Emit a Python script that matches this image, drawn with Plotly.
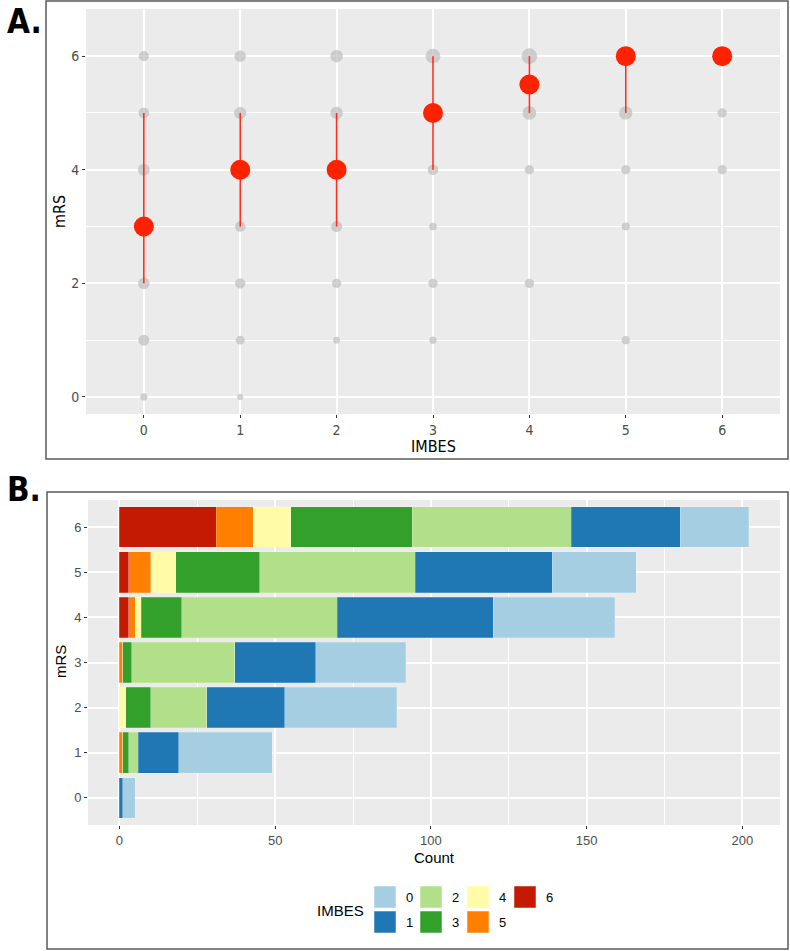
import plotly.graph_objects as go
import numpy as np

# ---------------- data ----------------
imbes_levels = [0, 1, 2, 3, 4, 5, 6]
mrs_levels = [0, 1, 2, 3, 4, 5, 6]

# counts per mRS row, listed by IMBES 0..6
count_mrs0 = [4, 1, 0, 0, 0, 0, 0]
count_mrs1 = [30, 13, 3, 2, 0, 1, 0]
count_mrs2 = [36, 25, 18, 8, 2, 0, 0]
count_mrs3 = [29, 26, 33, 3, 0, 1, 0]
count_mrs4 = [39, 50, 50, 13, 2, 2, 3]
count_mrs5 = [27, 44, 50, 27, 8, 7, 3]
count_mrs6 = [22, 35, 51, 39, 12, 12, 31]

# median and IQR of mRS per IMBES (panel A)
median_mrs = [3, 4, 4, 5, 5.5, 6, 6]
q1_mrs = [2, 3, 3, 4, 5, 5, 6]
q3_mrs = [5, 5, 5, 6, 6, 6, 6]

imbes_colors = ["#A6CEE3", "#1F78B4", "#B2DF8A", "#33A02C", "#FFFBA6", "#FF7F00", "#C41A02"]

x_ticks_A = [0, 1, 2, 3, 4, 5, 6]
y_ticks_A = [0, 2, 4, 6]
x_ticks_B = [0, 50, 100, 150, 200]

# ---------------- build ----------------
W, H = 790, 951
def fx(p): return p / W
def fy(p): return 1 - p / H

counts = np.array([count_mrs0, count_mrs1, count_mrs2, count_mrs3,
                   count_mrs4, count_mrs5, count_mrs6])  # [mrs, imbes]
totals = counts.sum(axis=0)

fig = go.Figure()

# Panel A: grey proportion dots
gx, gy, gs = [], [], []
for j, m in enumerate(mrs_levels):
    for i, im in enumerate(imbes_levels):
        c = counts[j, i]
        if c > 0:
            p = c / totals[i]
            gx.append(im); gy.append(m); gs.append(5 + 15 * np.sqrt(p))
fig.add_trace(go.Scatter(x=gx, y=gy, mode="markers",
                         marker=dict(size=gs, color="#BEBEBE", line=dict(width=0)),
                         xaxis="x", yaxis="y", showlegend=False, hoverinfo="skip"))

# IQR lines
lx, ly = [], []
for im, lo, hi in zip(imbes_levels, q1_mrs, q3_mrs):
    lx += [im, im, None]; ly += [lo, hi, None]
fig.add_trace(go.Scatter(x=lx, y=ly, mode="lines",
                         line=dict(color="#FF2E1E", width=1.6),
                         xaxis="x", yaxis="y", showlegend=False, hoverinfo="skip"))
# medians
fig.add_trace(go.Scatter(x=imbes_levels, y=median_mrs, mode="markers",
                         marker=dict(size=20, color="#FF2200", line=dict(width=0)),
                         xaxis="x", yaxis="y", showlegend=False))

# Panel B: stacked horizontal bars, IMBES 6 first (left)
for k in reversed(range(len(imbes_levels))):
    fig.add_trace(go.Bar(y=mrs_levels, x=counts[:, k], orientation="h",
                         width=0.9, marker=dict(color=imbes_colors[k],
                                                line=dict(width=0.6, color="rgba(255,255,255,0.35)")),
                         name=str(imbes_levels[k]),
                         xaxis="x2", yaxis="y2", showlegend=False))

FA = "Liberation Sans Narrow, DejaVu Sans Condensed, sans-serif"
FB = "Liberation Sans, Arial, sans-serif"
tickfont_A = dict(family=FA, size=14, color="#4D4D4D")
tickfont_B = dict(family=FB, size=13, color="#4D4D4D")
common = dict(showgrid=True, gridcolor="white", gridwidth=1.5, zeroline=False,
              ticks="outside", ticklen=3, tickcolor="#333333", tickwidth=1, showline=False)

fig.update_layout(
    width=W, height=H, margin=dict(l=0, r=0, t=0, b=0),
    paper_bgcolor="white", plot_bgcolor="#EBEBEB", barmode="stack",
    xaxis=dict(domain=[fx(86), fx(780)], range=[-0.6, 6.6], tickvals=x_ticks_A,
               tickfont=tickfont_A, anchor="y", **common),
    yaxis=dict(domain=[fy(414), fy(9)], range=[-0.3, 6.83], tickvals=y_ticks_A,
               tickfont=tickfont_A, anchor="x",
               minor=dict(tickvals=[1, 3, 5], showgrid=True, gridcolor="white", gridwidth=0.7, ticks=""),
               **common),
    xaxis2=dict(domain=[fx(88), fx(780)], range=[-10.1, 212.1], tickvals=x_ticks_B,
                tickfont=tickfont_B, anchor="y2",
                minor=dict(tickvals=[25, 75, 125, 175], showgrid=True, gridcolor="white", gridwidth=0.7, ticks=""),
                **common),
    yaxis2=dict(domain=[fy(825), fy(500)], range=[-0.6, 6.6], tickvals=mrs_levels,
                tickfont=tickfont_B, anchor="x2", **common),
)

shapes = [
    dict(type="rect", xref="paper", yref="paper", x0=fx(46), x1=fx(788), y0=fy(459), y1=fy(1),
         line=dict(color="#5A5A5A", width=1.5), fillcolor="rgba(0,0,0,0)"),
    dict(type="rect", xref="paper", yref="paper", x0=fx(47), x1=fx(788), y0=fy(949), y1=fy(492),
         line=dict(color="#5A5A5A", width=1.5), fillcolor="rgba(0,0,0,0)"),
]

def ann(text, x, y, font, angle=0, xanchor="center"):
    return dict(text=text, x=fx(x), y=fy(y), xref="paper", yref="paper", showarrow=False,
                textangle=angle, xanchor=xanchor, yanchor="middle", font=font)

annotations = [
    ann("<b>A.</b>", 24, 22, dict(family=FA, size=33, color="black")),
    ann("<b>B.</b>", 24, 489, dict(family=FA, size=33, color="black")),
    ann("mRS", 60, 212, dict(family=FA, size=16, color="black"), angle=-90),
    ann("IMBES", 433, 447, dict(family=FA, size=16, color="black")),
    ann("mRS", 60, 662, dict(family=FB, size=15, color="black"), angle=-90),
    ann("Count", 434, 857, dict(family=FB, size=15, color="black")),
    ann("IMBES", 340, 910, dict(family=FB, size=15, color="black")),
]

# legend (manual, 2 rows x 4 columns, column-major)
col_x = [374, 420, 467, 514]
row_y = [886, 911]
for k, im in enumerate(imbes_levels):
    cx, ry = col_x[k // 2], row_y[k % 2]
    shapes.append(dict(type="rect", xref="paper", yref="paper",
                       x0=fx(cx), x1=fx(cx + 22), y0=fy(ry + 22), y1=fy(ry),
                       fillcolor=imbes_colors[k], line=dict(color="rgba(255,255,255,0.5)", width=1)))
    annotations.append(ann(str(im), cx + 30, ry + 11, dict(family=FB, size=13, color="black"),
                           xanchor="left"))

fig.update_layout(shapes=shapes, annotations=annotations)
fig.write_html("out.html")
